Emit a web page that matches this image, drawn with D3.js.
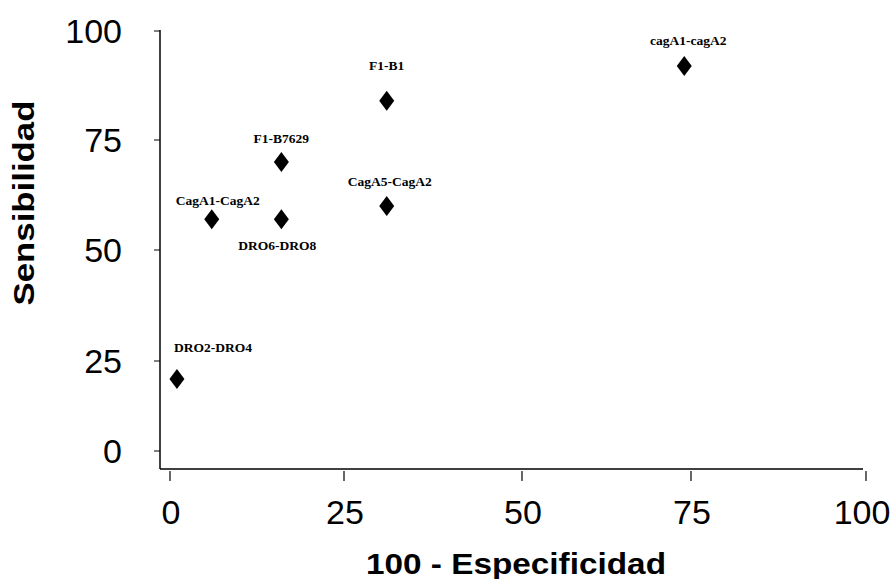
<!DOCTYPE html>
<html lang="en">
<head>
    <meta charset="UTF-8">
    <title>Sensibilidad vs 100 - Especificidad</title>
    <script src="https://d3js.org/d3.v7.min.js"></script>
    <style>
        body { margin: 0; background: #fff; }
        .tick_text { font-family: "Liberation Sans", Arial, sans-serif; font-size: 34px; fill: #000; }
        .axis_title { font-family: "Liberation Sans", Arial, sans-serif; font-weight: bold; font-size: 30px; fill: #000; }
        .pt_label { font-family: "Liberation Serif", "Times New Roman", serif; font-weight: bold; font-size: 13.5px; fill: #000; }
    </style>
</head>
<body>
<svg width="890" height="579"></svg>
<script>
    // data
    const names = ["DRO2-DRO4", "CagA1-CagA2", "DRO6-DRO8", "F1-B7629", "CagA5-CagA2", "F1-B1", "cagA1-cagA2"];
    const fpr   = [1, 6, 16, 16, 31, 31, 74];      // 100 - especificidad
    const sens  = [20, 57, 57, 70, 60, 84, 92];    // sensibilidad
    const ticks = [0, 25, 50, 75, 100];

    // label placement (dx, dy, anchor) per point
    const labelDx = [-3, 6, -4, 0, 3, 0, 4];
    const labelDy = [-27, -14, 31, -19, -20, -31, -21];
    const labelAnchor = ["start", "middle", "middle", "middle", "middle", "middle", "middle"];

    let svg = d3.select("svg");

    // the scan is slightly uneven, so the scales follow the printed tick marks
    let x = d3.scaleLinear().domain(ticks).range([170, 344, 522, 691, 866]);
    let y = d3.scaleLinear().domain(ticks).range([451, 361, 250, 140, 31]);

    const axisY = 469, axisX = 160;

    // axis lines
    svg.append("line")
        .attr("x1", axisX).attr("x2", axisX)
        .attr("y1", y(100) - 1).attr("y2", axisY)
        .attr("stroke", "#000").attr("stroke-width", 1.5);
    svg.append("line")
        .attr("x1", axisX).attr("x2", x(100) - 3)
        .attr("y1", axisY).attr("y2", axisY)
        .attr("stroke", "#000").attr("stroke-width", 1.5);

    // y ticks
    svg.append("g").selectAll("line")
        .data(ticks).enter().append("line")
        .attr("x1", axisX - 6).attr("x2", axisX)
        .attr("y1", d => y(d)).attr("y2", d => y(d))
        .attr("stroke", "#000").attr("stroke-width", 1);
    svg.append("g").selectAll("text")
        .data(ticks).enter().append("text")
        .attr("class", "tick_text")
        .attr("x", 122)
        .attr("y", d => y(d) + 12)
        .attr("text-anchor", "end")
        .text(d => d);

    // x ticks
    svg.append("g").selectAll("line")
        .data(ticks).enter().append("line")
        .attr("x1", d => x(d)).attr("x2", d => x(d))
        .attr("y1", axisY + 2).attr("y2", axisY + 12)
        .attr("stroke", "#000").attr("stroke-width", 1.2);
    svg.append("g").selectAll("text")
        .data(ticks).enter().append("text")
        .attr("class", "tick_text")
        .attr("x", d => d === 100 ? x(d) - 4 : x(d) + 1)
        .attr("y", 524)
        .attr("text-anchor", "middle")
        .text(d => d);

    // axis titles
    svg.append("text")
        .attr("class", "axis_title")
        .attr("text-anchor", "middle")
        .attr("transform", "translate(34,203) rotate(-90)")
        .attr("textLength", 205).attr("lengthAdjust", "spacingAndGlyphs")
        .text("Sensibilidad");
    svg.append("text")
        .attr("class", "axis_title")
        .attr("text-anchor", "middle")
        .attr("x", 516).attr("y", 574)
        .attr("textLength", 300).attr("lengthAdjust", "spacingAndGlyphs")
        .text("100 - Especificidad");

    // points
    let pts = d3.range(names.length);
    const diamond = "M0,-10L7.5,0L0,10L-7.5,0Z";
    svg.append("g").selectAll("path")
        .data(pts).enter().append("path")
        .attr("d", diamond)
        .attr("transform", i => "translate(" + x(fpr[i]) + "," + y(sens[i]) + ")")
        .attr("fill", "#000");

    svg.append("g").selectAll("text")
        .data(pts).enter().append("text")
        .attr("class", "pt_label")
        .attr("x", i => x(fpr[i]) + labelDx[i])
        .attr("y", i => y(sens[i]) + labelDy[i])
        .attr("text-anchor", i => labelAnchor[i])
        .text(i => names[i]);
</script>
</body>
</html>
